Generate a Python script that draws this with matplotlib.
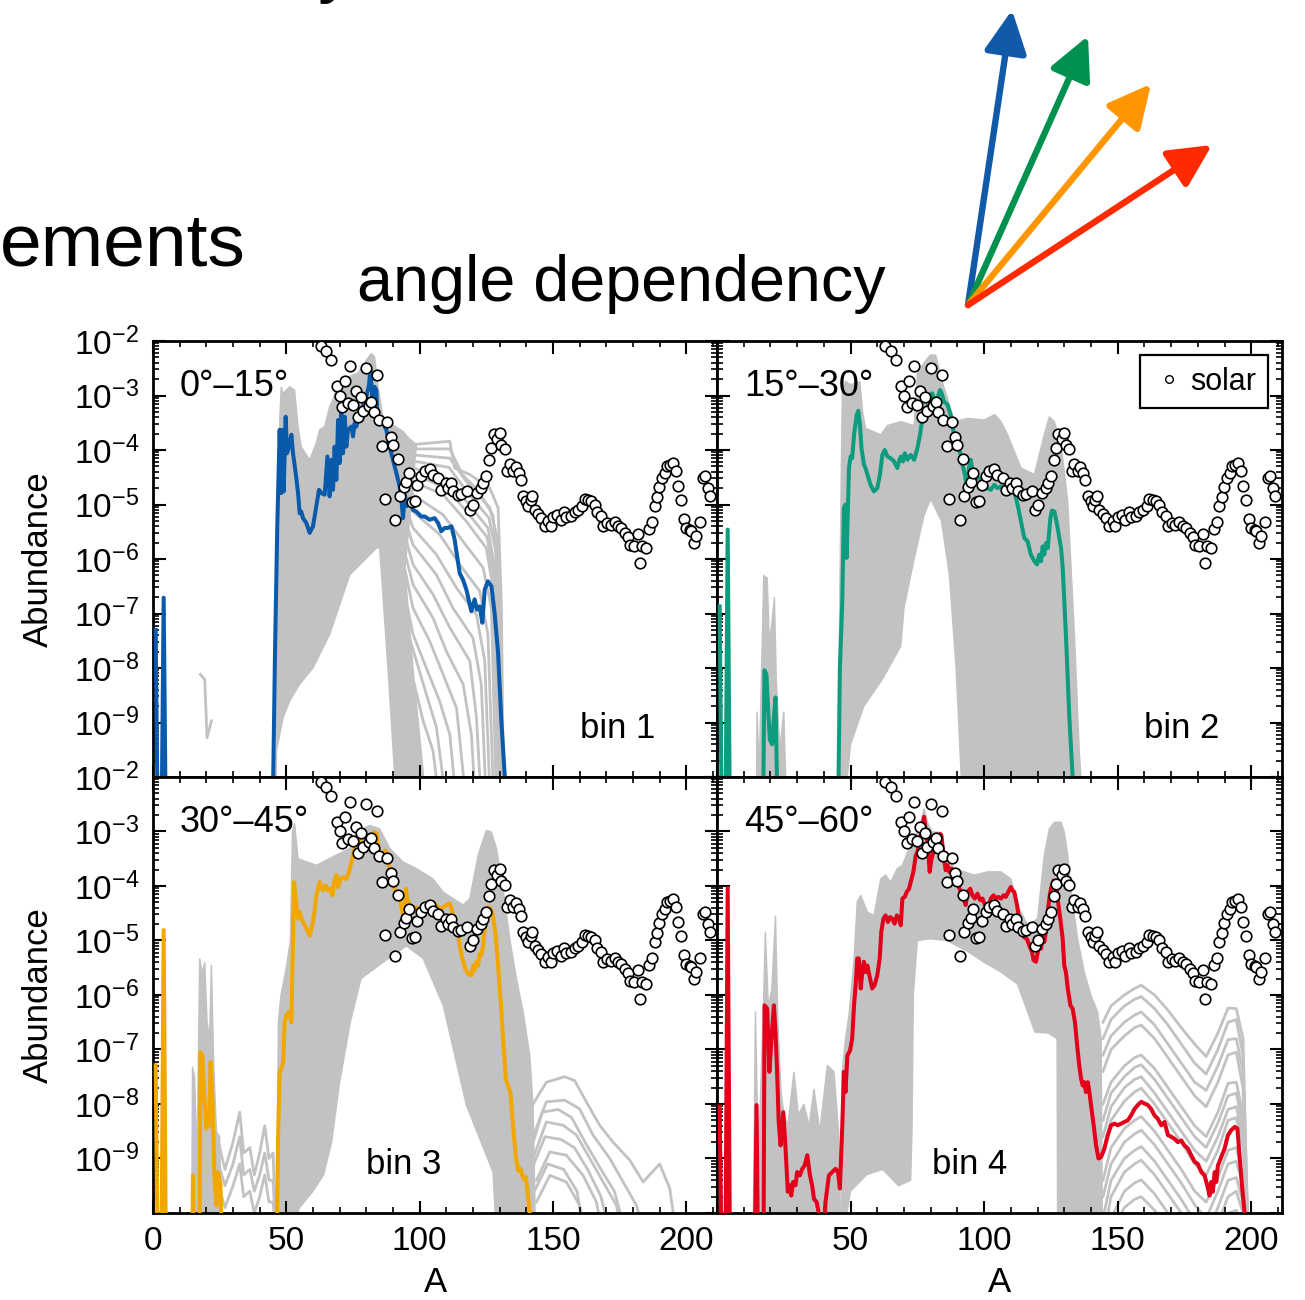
import numpy as np
import matplotlib
matplotlib.use("Agg")
import matplotlib.pyplot as plt
from matplotlib.ticker import MultipleLocator, LogLocator, NullFormatter
from matplotlib.lines import Line2D

plt.rcParams["font.family"] = ["Liberation Sans", "DejaVu Sans"]
plt.rcParams["mathtext.fontset"] = "custom"
plt.rcParams["mathtext.rm"] = "Liberation Sans"
plt.rcParams["mathtext.it"] = "Liberation Sans:italic"
plt.rcParams["mathtext.bf"] = "Liberation Sans:bold"

# ---------------------------------------------------------------- data
# all abundances are given as log10(Y)

# solar pattern (same in every panel)
SOLAR_A = [62.9, 65.0, 66.9, 69.0, 70.0, 71.0, 71.9, 73.1, 73.75, 75.0,
           76.0, 76.9, 77.9, 78.75, 80.0, 81.0, 81.9, 82.75, 84.1, 84.6,
           86.0, 86.9, 87.9, 89.1, 90.0, 90.9, 91.9, 92.5, 94.1, 95.0,
           96.0, 97.0, 98.1, 99.1, 100.6, 101.9, 103.75, 105.0, 106.9, 108.1,
           109.75, 110.6, 111.9, 112.5, 114.4, 115.6, 117.9, 119.0, 120.0, 121.5,
           123.1, 123.75, 125.0, 126.0, 126.9, 127.75, 129.0, 130.0, 130.6, 131.9,
           132.75, 133.75, 135.0, 136.0, 137.1, 137.9, 138.75, 140.0, 140.6, 141.6,
           142.25, 143.1, 144.4, 145.6, 146.9, 148.1, 149.1, 150.0, 151.5, 152.9,
           154.1, 155.0, 156.9, 158.1, 159.4, 161.0, 161.9, 163.1, 164.4, 165.6,
           166.5, 168.1, 168.75, 170.25, 171.6, 173.1, 174.4, 175.4, 176.9, 178.1,
           178.75, 180.25, 181.9, 182.5, 183.5, 185.0, 186.0, 187.1, 188.1, 189.0,
           189.75, 190.9, 192.1, 192.75, 193.75, 195.0, 196.0, 196.9, 198.1, 199.0,
           200.0, 201.25, 201.9, 202.75, 203.75, 205.0, 206.25, 207.1, 208.1, 209.0]
SOLAR_LOGY = [-2.10, -2.19, -2.35, -2.82, -3.00, -3.21, -2.74, -3.14, -2.45, -3.17,
              -2.92, -3.40, -3.03, -3.29, -2.50, -3.20, -3.12, -3.31, -2.63, -3.45,
              -3.92, -4.90, -3.48, -3.76, -3.90, -5.29, -4.16, -4.85, -4.67, -4.58,
              -4.42, -4.95, -4.93, -4.65, -4.48, -4.39, -4.34, -4.45, -4.52, -4.73,
              -4.61, -4.70, -4.61, -4.76, -4.82, -4.80, -4.76, -5.10, -5.00, -4.79,
              -4.70, -4.61, -4.47, -4.18, -3.97, -3.71, -3.79, -3.68, -3.90, -3.98,
              -4.39, -4.25, -4.39, -4.31, -4.42, -4.55, -4.85, -4.94, -5.02, -4.91,
              -4.84, -5.10, -5.17, -5.24, -5.40, -5.30, -5.40, -5.23, -5.19, -5.28,
              -5.13, -5.23, -5.22, -5.14, -5.10, -5.02, -4.90, -4.91, -4.94, -5.00,
              -5.14, -5.22, -5.40, -5.34, -5.37, -5.33, -5.40, -5.43, -5.52, -5.60,
              -5.74, -5.77, -5.55, -6.07, -5.77, -5.80, -5.45, -5.33, -5.03, -4.87,
              -4.67, -4.52, -4.42, -4.30, -4.27, -4.24, -4.39, -4.66, -4.91, -5.27,
              -5.43, -5.46, -5.49, -5.71, -5.57, -5.33, -4.52, -4.47, -4.70, -4.84]

# bin 1 (0-15 deg), blue run
BIN1_A = [1, 2, 3, 4, 5, 44.5, 45.75, 46.6, 47.5, 48.1,
          48.5, 49, 49.75, 50.25, 51, 51.9, 52.5, 53.5, 54.4, 55,
          55.6, 56.25, 57.5, 58.75, 60, 61.25, 62.25, 63.1, 64.4, 65.4,
          66.25, 66.9, 67.5, 68.1, 68.75, 69.4, 70, 70.6, 71.25, 71.9,
          72.5, 73.1, 74.4, 75, 75.6, 76.25, 76.9, 77.5, 78.75, 80,
          81, 81.5, 82.25, 83.1, 83.75, 84.1, 85, 86.25, 87.5, 88.75,
          90, 91.25, 92.5, 93.1, 93.75, 94.4, 95.25, 96.25, 97.5, 98.75,
          100.6, 101.9, 103.75, 105.6, 106.9, 108.1, 109.4, 110.6, 111.9, 113.1,
          115, 116.25, 117.5, 119.4, 120.6, 121.5, 122.5, 123.5, 124.4, 125.6,
          126.9, 128.1, 129.4, 130.6, 131.9, 132.5]
BIN1_LOGY = [-7.3, -12, -12, -6.71, -12, -12, -7.72, -5.40, -3.63, -4.79,
             -3.63, -4.76, -3.39, -4.06, -3.94, -3.72, -4.06, -4.42, -4.79, -5.16,
             -5.13, -5.25, -5.34, -5.52, -5.40, -5.03, -4.73, -4.79, -4.82, -4.12,
             -4.85, -4.18, -4.73, -3.94, -4.55, -3.45, -4.24, -3.26, -4.06, -3.39,
             -3.94, -3.63, -3.57, -3.75, -3.51, -3.57, -3.42, -3.45, -3.20, -3.02,
             -2.81, -2.53, -3.02, -2.84, -2.90, -3.32, -3.45, -3.51, -3.63, -3.94,
             -4.18, -4.42, -4.67, -4.88, -5.25, -4.82, -5.03, -4.91, -5.10, -5.13,
             -5.22, -5.22, -5.28, -5.25, -5.34, -5.49, -5.43, -5.43, -5.40, -5.64,
             -6.26, -6.38, -6.56, -6.96, -6.74, -6.93, -6.87, -7.17, -6.56, -6.41,
             -6.50, -6.99, -7.72, -8.94, -9.98, -11]
BIN1_BAND_A = [46.0, 46.9, 47.5, 48.1, 48.75, 51.25, 53.1, 54.4, 55.6, 58.75,
               61.25, 62.5, 64.4, 66.25, 67.5, 68.75, 71.25, 73.75, 76.9, 80.0,
               81.9, 83.1, 84.4, 86.3, 88.75, 91.25, 93.8, 96.25, 98.8, 94.5,
               97.5, 102.5, 91.3, 88.1, 85.0, 83.8, 73.8, 66.3, 60.0, 55.0,
               51.3, 48.8, 46.3, 46.2]
BIN1_BAND_LOGY = [-10.5, -5.28, -3.45, -2.84, -2.96, -2.84, -2.90, -3.57, -3.94, -4.18,
                  -3.87, -3.63, -3.57, -3.20, -3.08, -2.84, -2.71, -2.65, -2.59, -2.35,
                  -2.23, -2.29, -2.84, -3.42, -3.50, -3.58, -3.66, -3.80, -3.90, -6.2,
                  -8.0, -10.5, -10.5, -8.0, -5.8, -5.8, -6.29, -7.38, -8.0, -8.3,
                  -8.6, -8.91, -9.52, -10.5]
BIN1_FAN_A = [[93.5, 97.5, 111.3, 113.1, 118.8, 126.3, 129.4, 130.6, 131.5],
              [93.5, 97.5, 111.3, 116, 122, 127.5, 130.0, 131.2],
              [93.5, 97.5, 111.3, 117.5, 126.3, 128.8, 130.0, 131.0],
              [93.5, 97.5, 111.0, 117.5, 126.0, 128.5, 129.8, 130.6],
              [93.5, 97.5, 110.0, 117.5, 125.6, 128.1, 129.4, 130.3],
              [93.5, 97.5, 109.5, 117.5, 125.3, 127.8, 129.0, 129.9],
              [93.5, 97.5, 108.8, 117.5, 125.0, 127.5, 128.8, 129.5],
              [93.5, 97.5, 108.8, 116.3, 123.8, 126.9, 128.8],
              [93.5, 97.5, 107.5, 115.0, 122.5, 125.6, 127.8],
              [93.5, 97.5, 106.3, 113.8, 121.3, 124.4, 126.5],
              [93.5, 97.5, 106.3, 112.5, 120.0, 123.1, 125.0],
              [93.5, 97.5, 105.0, 111.3, 118.8, 121.3, 123.1],
              [94.0, 97.5, 105.0, 110.0, 116.3, 119.4, 121.0],
              [94.5, 97.5, 103.8, 108.8, 113.8, 117.5],
              [95.5, 97.5, 102.5, 107.5, 111.3, 113.8],
              [96.5, 102.5, 106.3, 110.0],
              [98.0, 101.3, 105.0, 107.5]]
BIN1_FAN_LOGY = [[-3.70, -3.90, -3.84, -4.33, -4.45, -4.70, -5.06, -6.77, -10.5],
                 [-3.78, -3.98, -3.98, -4.45, -4.75, -5.20, -6.50, -10.5],
                 [-3.85, -4.09, -4.15, -4.58, -5.06, -5.55, -7.38, -10.5],
                 [-3.92, -4.20, -4.32, -4.75, -5.25, -5.85, -7.60, -10.5],
                 [-4.00, -4.33, -4.52, -4.94, -5.43, -6.16, -8.00, -10.5],
                 [-4.10, -4.45, -4.68, -5.12, -5.60, -6.35, -8.30, -10.5],
                 [-4.20, -4.58, -4.82, -5.31, -5.80, -6.53, -8.61, -10.5],
                 [-4.40, -4.82, -5.19, -5.68, -6.16, -6.90, -10.5],
                 [-4.60, -5.13, -5.55, -6.10, -6.59, -7.38, -10.5],
                 [-4.85, -5.43, -5.92, -6.53, -7.02, -7.87, -10.5],
                 [-5.10, -5.74, -6.29, -6.90, -7.45, -8.30, -10.5],
                 [-5.40, -6.10, -6.65, -7.26, -7.87, -8.91, -10.5],
                 [-5.80, -6.47, -7.08, -7.69, -8.30, -9.22, -10.5],
                 [-6.20, -6.90, -7.51, -8.12, -8.73, -10.5],
                 [-6.90, -7.38, -8.00, -8.61, -9.22, -10.5],
                 [-7.50, -8.48, -9.09, -10.5],
                 [-8.30, -8.97, -9.52, -10.5]]
BIN1_FRAG_A = [17.76, 19.4, 20.26, 21.9]
BIN1_FRAG_LOGY = [-8.12, -8.21, -9.28, -8.97]

# bin 2 (15-30 deg), green run
BIN2_A = [1, 2, 3, 4, 5, 17.0, 17.76, 18.5, 19.1, 19.76,
          20.6, 21.3, 21.9, 22.5, 23, 45.0, 46, 46.9, 47.5, 48.1,
          48.5, 49, 49.4, 50, 50.6, 51.3, 52.3, 52.9, 53.5, 54.1,
          55, 55.6, 56.3, 57.5, 58.75, 60, 61, 61.9, 62.8, 63.8,
          65, 66.3, 67.5, 68.1, 68.8, 69.6, 70.3, 71.3, 72.5, 73.8,
          75, 76, 76.9, 77.5, 78.8, 79.8, 80.6, 81.5, 82.5, 83.5,
          84.1, 85, 86.3, 87.5, 88.5, 89.4, 90.4, 91.3, 91.9, 92.8,
          93.5, 94.3, 95, 95.6, 96.3, 96.9, 97.5, 98.8, 100, 101.3,
          102.5, 103.8, 105, 106.3, 107.5, 108.8, 110, 111.3, 112.5, 113.8,
          115, 116.3, 117.5, 118.8, 119.8, 120.6, 121.3, 121.9, 122.5, 123.1,
          123.8, 124.8, 125.4, 126.3, 127.3, 128.8, 129.4, 130.6, 131.9, 133.1,
          133.8]
BIN2_LOGY = [-6.87, -12, -12, -5.46, -12, -12, -8.04, -8.12, -8.73, -9.31,
             -9.40, -8.91, -8.54, -10.2, -12, -12, -8.0, -6.77, -5.06, -5.0,
             -5.98, -5.08, -4.33, -4.12, -4.15, -3.72, -3.36, -3.28, -3.54, -3.97,
             -4.27, -4.33, -4.45, -4.64, -4.76, -4.70, -4.45, -4.09, -4.0, -4.12,
             -4.15, -4.21, -4.33, -4.21, -4.12, -4.21, -4.06, -4.18, -4.09, -4.18,
             -3.97, -3.72, -3.42, -3.36, -3.20, -2.99, -2.96, -3.11, -3.05, -2.90,
             -2.96, -3.11, -3.17, -3.36, -3.66, -3.84, -3.97, -4.09, -4.27, -4.45,
             -4.70, -4.33, -4.18, -4.39, -4.45, -4.39, -4.52, -4.52, -4.64, -4.70,
             -4.73, -4.64, -4.70, -4.67, -4.73, -4.70, -4.70, -4.76, -5.0, -5.31,
             -5.61, -5.68, -5.92, -6.04, -6.10, -5.92, -6.04, -5.77, -5.92, -5.71,
             -5.80, -5.25, -5.11, -5.13, -5.37, -5.80, -6.16, -7.38, -8.91, -9.98,
             -11]
BIN2_BAND_A = [45.3, 46.0, 46.9, 48.1, 50.0, 53.5, 54.5, 55.6, 61.3, 63.8,
               68.8, 73.8, 75.0, 77.5, 79.8, 81.9, 84.0, 86.3, 88.8, 93.8,
               100.0, 104.0, 106.3, 108.8, 113.8, 118.8, 122.5, 124.4, 126.3, 128.8,
               131.3, 133.8, 135.6, 136.9, 91.9, 89.5, 87.0, 84.0, 80.0, 77.5,
               73.8, 70.0, 68.8, 62.0, 55.0, 50.0, 47.8]
BIN2_BAND_LOGY = [-10.5, -6.53, -2.93, -2.74, -2.80, -2.75, -3.30, -3.60, -3.72, -3.55,
                  -3.48, -3.55, -2.60, -2.40, -2.26, -2.26, -2.70, -3.05, -3.48, -3.42,
                  -3.45, -3.35, -3.48, -3.72, -4.33, -4.45, -3.72, -3.39, -3.48, -3.90,
                  -4.94, -7.38, -9.52, -10.5, -10.5, -8.0, -6.3, -5.3, -4.9, -5.2,
                  -6.0, -6.9, -7.6, -8.2, -8.7, -9.4, -10.5]
BIN2_LOW_A = [14.7, 15.0, 15.8, 17.5, 18.8, 19.6, 20.5, 21.5, 22.2, 23.5, 25.0, 26.0]
BIN2_LOW_LOGY = [-10.5, -8.8, -9.9, -6.3, -6.35, -7.5, -7.2, -6.7, -8.2, -9.5, -8.8, -10.5]

# bin 3 (30-45 deg), orange run
BIN3_A = [1, 2, 3, 4, 5, 14.5, 15, 15.5, 17.3, 17.8,
          18.5, 19.1, 20, 21, 21.6, 22.3, 23.1, 23.8, 24.4, 25.3,
          26, 46.0, 46.9, 47.5, 48.1, 48.8, 49.4, 50, 51, 51.9,
          52.5, 52.9, 53.5, 54.4, 55, 55.6, 56.3, 57.5, 58.8, 60,
          61.3, 62.5, 63.1, 63.8, 64.8, 65.6, 66.5, 67.3, 67.9, 68.8,
          69.4, 70.3, 71.3, 72.5, 73.5, 74.4, 75.3, 76.3, 77.1, 77.9,
          78.8, 79.4, 80.3, 81, 81.9, 82.5, 83.1, 83.8, 84.8, 85.6,
          86.5, 87.3, 88.1, 89, 90, 91, 91.9, 92.8, 93.8, 94.4,
          94.8, 95.3, 96.3, 97.5, 98.8, 100, 101.3, 102.5, 103.8, 105,
          106.3, 107.5, 108.8, 110, 111.3, 112.3, 113.1, 114, 115, 116,
          116.9, 118.1, 119.4, 120, 120.6, 121.3, 121.9, 122.5, 123.1, 123.8,
          124.8, 125.6, 126.5, 127.5, 128.5, 129.4, 130.3, 131.3, 132.3, 133.1,
          134, 135, 136, 136.9, 137.8, 138.8, 139.8, 140.6, 141.3, 142]
BIN3_LOGY = [-7.29, -12, -12, -4.81, -12, -12, -9.31, -12, -12, -7.05,
             -7.11, -7.78, -8.45, -8.39, -7.23, -7.96, -9.43, -9.86, -9.25, -9.49,
             -11, -12, -8.64, -7.41, -7.35, -7.23, -6.50, -6.37, -6.31, -6.50,
             -4.97, -3.93, -4.23, -4.60, -4.48, -4.60, -4.66, -4.78, -4.91, -4.66,
             -4.17, -3.93, -4.02, -4.08, -3.99, -4.08, -4.05, -4.17, -3.93, -3.80,
             -4.02, -3.87, -3.84, -3.87, -3.74, -3.56, -3.38, -3.22, -3.10, -3.19,
             -3.41, -3.25, -3.10, -3.13, -3.22, -3.07, -3.01, -3.04, -3.38, -3.44,
             -3.38, -3.35, -3.56, -3.74, -3.93, -4.11, -4.20, -4.29, -4.54, -4.42,
             -4.05, -4.23, -4.35, -4.42, -4.39, -4.48, -4.48, -4.39, -4.39, -4.42,
             -4.35, -4.42, -4.39, -4.35, -4.32, -4.48, -4.66, -4.78, -5.09, -5.33,
             -5.49, -5.61, -5.64, -5.46, -5.55, -5.39, -5.46, -5.24, -5.27, -5.09,
             -4.60, -4.39, -4.40, -4.54, -4.91, -5.46, -6.07, -6.80, -7.54, -7.66,
             -7.78, -8.39, -8.94, -9.22, -9.19, -9.37, -9.34, -9.68, -10.0, -11]
BIN3_BAND_A = [46.3, 47.0, 48.0, 50.0, 51.5, 52.3, 53.1, 54.0, 54.4, 61.3,
               66.0, 73.8, 76.3, 81.3, 85.0, 88.8, 93.8, 98.8, 105.0, 108.8,
               112.5, 116.3, 118.8, 121.9, 125.0, 126.9, 128.8, 131.3, 133.8, 136.3,
               138.8, 141.3, 142.5, 143.5, 128.8, 127.5, 117.5, 108.8, 101.3, 95.0,
               86.3, 78.0, 74.0, 70.0, 67.0, 64.0, 60.0, 55.0, 50.0]
BIN3_BAND_LOGY = [-10.5, -6.5, -6.0, -5.5, -5.0, -3.0, -2.85, -3.3, -3.50, -3.62,
                  -3.5, -3.31, -3.0, -2.89, -2.95, -3.31, -3.56, -3.68, -3.87, -4.11,
                  -4.23, -4.35, -4.23, -3.44, -2.98, -3.01, -3.31, -4.05, -4.97, -5.70,
                  -6.31, -7.11, -8.0, -10.5, -10.5, -9.25, -8.02, -6.19, -5.33, -5.1,
                  -5.4, -5.7, -6.5, -7.6, -8.7, -9.3, -9.6, -9.9, -10.5]
BIN3_LOW_A = [14.5, 14.8, 15.6, 16.5, 17.5, 18.5, 19.4, 20.3, 21.2, 21.9, 22.8, 23.8, 25.0, 25.8]
BIN3_LOW_LOGY = [-10.5, -7.32, -7.5, -9.0, -5.33, -5.6, -5.4, -6.5, -6.8, -5.45, -7.3, -8.5, -8.6, -10.5]
BIN3_TAIL_A = [24, 27, 30, 32.5, 34, 36.3, 38, 40, 41.9, 43.5, 45, 46.3]
BIN3_TAIL_LOGY = [[-8.6, -9.2, -8.7, -8.15, -8.9, -8.8, -9.3, -8.9, -8.4, -9.0, -8.9, -10.5],
                  [-9.0, -9.5, -9.1, -8.6, -9.3, -9.2, -9.6, -9.3, -8.9, -9.4, -9.4, -10.5],
                  [-9.4, -9.9, -9.5, -9.1, -9.7, -9.6, -10.0, -9.7, -9.3, -9.8, -9.8, -10.5]]
BIN3_HUMP_A = [[141.3, 147.5, 154.4, 158.1, 162.5, 167.5, 172.5, 178.8, 183.8, 190, 193.8, 196.5],
               [142.5, 147.5, 154.4, 160, 165, 171.3, 176.3, 181.3, 185],
               [141.3, 146, 152, 157, 162, 168, 173, 178],
               [142.5, 147.5, 153.8, 158.8, 163.8, 168.8, 173.8, 176],
               [142, 147, 153, 158, 163, 168, 172],
               [143.8, 148.8, 155, 161.3, 166.3, 169],
               [143, 148, 154, 159, 162],
               [143.8, 148.8, 155, 160, 163]]
BIN3_HUMP_LOGY = [[-8.1, -7.60, -7.50, -7.57, -7.96, -8.39, -8.70, -9.03, -9.43, -9.10, -9.55, -10.5],
                  [-8.6, -7.96, -7.93, -8.09, -8.57, -9.00, -9.43, -9.86, -10.5],
                  [-8.9, -8.15, -8.1, -8.25, -8.7, -9.2, -9.6, -10.5],
                  [-9.0, -8.33, -8.39, -8.57, -9.00, -9.43, -9.86, -10.5],
                  [-9.2, -8.6, -8.65, -8.8, -9.2, -9.7, -10.5],
                  [-9.4, -8.88, -8.94, -9.31, -9.80, -10.5],
                  [-9.6, -9.1, -9.2, -9.6, -10.5],
                  [-9.8, -9.31, -9.43, -9.86, -10.5]]

# bin 4 (45-60 deg), red run
BIN4_A = [1, 2, 3, 4, 5, 13.8, 14.8, 15.6, 17.3, 17.8,
          18.8, 19.6, 20.4, 21.3, 21.9, 22.5, 23.1, 23.8, 24.8, 25.6,
          26.5, 27.3, 27.8, 28.5, 29.4, 30, 31, 31.9, 32.8, 33.8,
          34.8, 35.6, 36.3, 37.3, 38.1, 38.8, 40.0, 40.6, 41.9, 43.1,
          44.4, 45.3, 46, 46.9, 47.5, 48.1, 48.8, 49.8, 50.6, 51.3,
          51.9, 52.5, 53.1, 53.8, 54.4, 55, 55.6, 56.3, 57.3, 58.1,
          59, 60, 60.9, 61.5, 62.3, 63.1, 64, 64.8, 65.6, 66.5,
          67.3, 68.1, 68.8, 69.4, 70.3, 71, 71.9, 72.5, 73.5, 74.4,
          75, 75.6, 76.3, 76.9, 77.5, 78.1, 78.8, 79.6, 80.3, 81,
          81.9, 82.8, 83.5, 84, 84.8, 85.6, 86.3, 86.9, 87.8, 88.5,
          89.4, 90.3, 91.3, 92.3, 93.1, 93.8, 94.8, 95.6, 96.5, 97.5,
          98.5, 99.4, 100.3, 101, 101.9, 102.5, 103.5, 104.4, 105.3, 106.3,
          107.3, 108.1, 109, 110, 110.6, 111.3, 112.3, 113.1, 114, 115,
          116, 116.9, 117.9, 118.5, 119.4, 120, 120.6, 121.3, 121.9, 122.5,
          123.1, 123.8, 124.4, 125, 126, 126.9, 127.5, 128.5, 129.4, 130,
          130.6, 131.3, 132.3, 133.1, 134, 134.8, 135.6, 136.3, 136.9, 137.5,
          138.1, 138.8, 139.4, 140, 141, 141.9, 142.8, 143.8, 145, 146.3,
          147.5, 148.8, 150, 151.3, 152.5, 153.8, 155, 156.3, 157.5, 158.8,
          160, 161.3, 162.5, 163.8, 165, 166.3, 167.5, 168.8, 170, 171.3,
          172.5, 173.8, 175, 176.3, 177.5, 178.8, 180, 181.3, 182.5, 183.5,
          184.4, 185, 185.6, 186.3, 186.9, 187.5, 188.1, 189, 190, 190.6,
          191.3, 192.5, 193.8, 194.8, 195.6, 196.5, 197.5, 198.1]
BIN4_LOGY = [-8.05, -12, -12, -4.04, -12, -12, -8.02, -12, -12, -6.19,
             -6.25, -7.41, -6.80, -6.19, -6.68, -7.41, -8.33, -8.76, -8.15, -8.76,
             -9.61, -9.49, -9.68, -9.43, -9.49, -9.25, -9.31, -9.19, -9.13, -8.94,
             -9.31, -9.49, -9.74, -9.80, -10.0, -10.5, -10.5, -9.80, -9.31, -9.25,
             -9.19, -9.25, -9.55, -8.39, -7.41, -7.78, -7.11, -7.02, -6.80, -6.19,
             -5.82, -5.33, -5.33, -5.88, -5.58, -5.39, -5.58, -5.46, -5.70, -5.88,
             -5.82, -5.64, -5.33, -4.84, -4.60, -4.54, -4.66, -4.57, -4.60, -4.69,
             -4.54, -4.60, -4.72, -4.23, -4.20, -4.11, -4.05, -3.93, -3.74, -3.44,
             -3.38, -3.25, -3.07, -2.89, -2.73, -2.95, -3.19, -3.74, -3.50, -3.38,
             -3.25, -3.13, -3.04, -3.07, -3.44, -3.71, -3.62, -3.74, -3.68, -3.80,
             -3.87, -3.99, -4.11, -4.23, -4.35, -4.11, -4.05, -4.17, -4.23, -4.14,
             -4.26, -4.23, -4.35, -4.48, -4.35, -4.23, -4.17, -4.23, -4.20, -4.23,
             -4.17, -4.20, -4.11, -4.02, -4.08, -4.11, -4.35, -4.60, -4.84, -4.94,
             -4.97, -5.09, -5.21, -5.36, -5.39, -5.24, -4.97, -5.15, -4.91, -5.03,
             -4.84, -4.48, -4.23, -4.05, -3.90, -3.96, -4.23, -4.60, -4.97, -5.46,
             -5.58, -5.88, -6.19, -6.25, -6.50, -6.92, -7.29, -7.54, -7.66, -7.60,
             -7.78, -7.60, -7.78, -8.02, -8.39, -8.76, -9.00, -8.97, -8.82, -8.57,
             -8.39, -8.36, -8.39, -8.36, -8.33, -8.30, -8.21, -8.09, -8.02, -7.96,
             -7.99, -8.02, -8.09, -8.21, -8.27, -8.39, -8.33, -8.57, -8.60, -8.64,
             -8.70, -8.67, -8.76, -8.82, -8.94, -9.06, -9.10, -9.25, -9.31, -9.49,
             -9.68, -9.43, -9.61, -9.25, -9.43, -9.13, -9.06, -8.94, -8.82, -8.70,
             -8.57, -8.48, -8.42, -8.45, -8.94, -9.49, -10.0, -10.5]
BIN4_BAND_A = [46.3, 46.9, 48.1, 49.4, 51.3, 52.5, 53.8, 56.3, 58.8, 61.3,
               63.1, 65.0, 67.5, 69.4, 71.3, 73.8, 76.3, 77.5, 78.8, 80.6,
               82.5, 85.0, 88.8, 92.5, 96.3, 101.3, 106.3, 110.0, 112.5, 116.3,
               120.0, 122.5, 124.4, 126.3, 128.8, 130.0, 131.3, 132.5, 135.0, 137.5,
               140.0, 142.5, 143.8, 144.3, 127.5, 127.3, 124.0, 119.0, 112.5, 106.3,
               100.0, 93.8, 86.0, 80.0, 75.0, 73.5, 73.0, 72.5, 68.0, 62.0,
               56.0, 50.0, 47.0]
BIN4_BAND_LOGY = [-10.5, -7.41, -6.80, -6.37, -5.33, -4.29, -4.17, -4.48, -4.54, -3.87,
                  -3.80, -3.93, -3.68, -3.62, -3.38, -3.13, -2.83, -2.58, -2.83, -3.01,
                  -3.01, -3.38, -3.68, -3.74, -3.80, -3.74, -3.74, -3.87, -4.35, -4.72,
                  -4.60, -3.44, -2.95, -2.83, -2.83, -3.01, -3.44, -4.05, -4.97, -5.58,
                  -6.01, -6.31, -6.8, -10.5, -10.5, -6.8, -6.7, -6.68, -5.8, -5.58,
                  -5.4, -5.2, -5.0, -4.97, -5.0, -6.0, -8.5, -9.4, -9.5, -9.2,
                  -9.3, -9.6, -10.5]
BIN4_LOW_A = [13.5, 14.4, 15.5, 17.2, 18.1, 19.2, 20.5, 21.9, 22.8, 24.0,
              25.0, 26.5, 28.8, 30.5, 32.5, 34.5, 36.3, 38.5, 41.3, 43.8,
              45.5, 46.3]
BIN4_LOW_LOGY = [-10.5, -6.3, -9.0, -6.5, -4.84, -6.2, -5.9, -4.54, -6.5, -7.8,
                 -8.15, -8.4, -7.41, -8.2, -8.0, -8.4, -7.72, -8.5, -7.29, -7.41,
                 -8.5, -10.5]
BIN4_HUMP_A = [144.5, 147.5, 152.5, 156.3, 158.8, 163.8, 168.8, 173.8, 178.8, 183.1,
               187.5, 191.3, 194.4, 196.9, 198.8]
BIN4_HUMP_LOGY = [
    [-6.5, -6.2, -6.0, -5.88, -5.82, -6.0, -6.28, -6.6, -6.9, -7.13, -6.7, -6.24, -6.25, -6.8, -10.5],
    [-6.8, -6.45, -6.2, -6.08, -6.03, -6.25, -6.55, -6.9, -7.25, -7.45, -7.0, -6.5, -6.45, -7.1, -10.5],
    [-7.1, -6.75, -6.5, -6.37, -6.31, -6.55, -6.9, -7.25, -7.6, -7.75, -7.3, -6.82, -6.8, -7.4, -10.5],
    [-7.4, -7.0, -6.75, -6.6, -6.55, -6.8, -7.15, -7.5, -7.85, -8.05, -7.6, -7.1, -7.05, -7.7, -10.5],
    [-8.0, -7.6, -7.3, -7.15, -7.10, -7.35, -7.7, -8.05, -8.4, -8.6, -8.15, -7.62, -7.6, -8.2, -10.5],
    [-8.3, -7.8, -7.5, -7.33, -7.28, -7.55, -7.9, -8.25, -8.6, -8.8, -8.35, -7.85, -7.8, -8.4, -10.5],
    [-8.6, -8.05, -7.7, -7.55, -7.50, -7.8, -8.15, -8.5, -8.85, -9.05, -8.6, -8.1, -8.05, -8.6, -10.5],
    [-8.9, -8.3, -7.95, -7.78, -7.71, -8.0, -8.35, -8.7, -9.1, -9.3, -8.85, -8.3, -8.25, -8.8, -10.5],
    [-9.4, -8.8, -8.45, -8.3, -8.23, -8.5, -8.85, -9.2, -9.6, -9.8, -9.35, -8.85, -8.8, -9.3, -10.5],
    [-9.7, -9.1, -8.7, -8.55, -8.48, -8.75, -9.1, -9.45, -9.85, -10.1, -9.6, -9.1, -9.05, -9.5, -10.5],
    [-10.1, -9.4, -9.0, -8.85, -8.78, -9.05, -9.4, -9.75, -10.15, -10.4, -9.9, -9.4, -9.35, -9.8, -10.5],
    [-10.5, -9.7, -9.25, -9.1, -9.03, -9.3, -9.65, -10.0, -10.4, -10.6, -10.2, -9.7, -9.6, -10.0, -10.5],
    [-10.8, -10.1, -9.6, -9.45, -9.39, -9.65, -10.0, -10.35, -10.7, -10.9, -10.5, -10.0, -9.95, -10.3, -10.6],
    [-11.0, -10.4, -9.9, -9.75, -9.70, -9.95, -10.3, -10.6, -11.0, -11.0, -10.8, -10.3, -10.2, -10.5, -10.7],
]

ANGLE_LABELS = ["0°–15°", "15°–30°", "30°–45°", "45°–60°"]
BIN_LABELS = ["bin 1", "bin 2", "bin 3", "bin 4"]
X_TICKS = [0, 50, 100, 150, 200]
Y_EXPONENTS = list(range(-10, -1))

# ---------------------------------------------------------------- style
W, H = 1305, 1300
GRAY = "#c2c2c2"
BLUE = "#0a5aac"
GREEN = "#0e9c7e"
ORANGE = "#f2a600"
RED = "#e3001b"
ARROW_COLORS = ["#1159a9", "#00914f", "#ff9600", "#ff2a00"]


def _check(name, a, b):
    if len(a) != len(b):
        raise ValueError(f"{name}: {len(a)} x values but {len(b)} y values")


def _ylog(vals):
    return 10.0 ** np.asarray(vals, dtype=float)


def draw_panel(ax, polys, gray_lines, run_a, run_logy, color, angle_text,
               bin_text, bin_right, left, bottom):
    for i, (pa, py) in enumerate(polys):
        _check(f"poly{i}", pa, py)
        ax.fill(pa, _ylog(py), facecolor=GRAY, edgecolor=GRAY, lw=1.0, zorder=1)
    for i, (la, ly) in enumerate(gray_lines):
        _check(f"gray{i}", la, ly)
        ax.plot(la, _ylog(ly), color=GRAY, lw=2.0, zorder=1.5,
                solid_joinstyle="round")
    _check("run", run_a, run_logy)
    ax.plot(run_a, _ylog(run_logy), color=color, lw=2.9, zorder=3,
            solid_joinstyle="round")
    ax.plot(SOLAR_A, _ylog(SOLAR_LOGY), ls="none", marker="o", ms=7.6,
            mfc="white", mec="black", mew=1.2, zorder=4)

    ax.set_yscale("log")
    ax.set_xlim(0, 211.5)
    ax.set_ylim(1e-10, 1e-2)

    ax.set_xticks(X_TICKS)
    ax.xaxis.set_minor_locator(MultipleLocator(10))
    ax.set_yticks([10.0 ** k for k in Y_EXPONENTS])
    ax.yaxis.set_minor_locator(LogLocator(base=10, subs=np.arange(2, 10), numticks=20))
    ax.yaxis.set_minor_formatter(NullFormatter())

    if left:
        ax.set_yticklabels([""] + [r"$\mathregular{10^{%d}}$" % k for k in Y_EXPONENTS[1:]])
    else:
        ax.set_yticklabels([])
    if bottom:
        labels = [str(t) for t in X_TICKS]
        if not left:
            labels[0] = ""
        ax.set_xticklabels(labels)
    else:
        ax.set_xticklabels([])

    ax.tick_params(which="both", direction="in", top=True, right=True,
                   labelsize=24)
    ax.tick_params(which="major", length=9, width=1.5)
    ax.tick_params(which="minor", length=4.5, width=1.2)
    ax.tick_params(axis="y", pad=10)
    ax.tick_params(axis="x", pad=9)
    for sp in ax.spines.values():
        sp.set_linewidth(2.0)

    ax.text(0.048, 0.874, angle_text, transform=ax.transAxes, fontsize=26,
            ha="left", va="baseline", zorder=6)
    ax.text(bin_right, 0.089, bin_text, transform=ax.transAxes, fontsize=25,
            ha="right", va="baseline", zorder=6)


fig = plt.figure(figsize=(W / 100, H / 100), dpi=100)

boxes = {
    "tl": [153 / W, 1 - 777 / H, 564 / W, 436 / H],
    "tr": [717 / W, 1 - 777 / H, 565 / W, 436 / H],
    "bl": [153 / W, 1 - 1213 / H, 564 / W, 436 / H],
    "br": [717 / W, 1 - 1213 / H, 565 / W, 436 / H],
}
ax1 = fig.add_axes(boxes["tl"])
ax2 = fig.add_axes(boxes["tr"])
ax3 = fig.add_axes(boxes["bl"])
ax4 = fig.add_axes(boxes["br"])

draw_panel(ax1, [(BIN1_BAND_A, BIN1_BAND_LOGY)],
           list(zip(BIN1_FAN_A, BIN1_FAN_LOGY)) + [(BIN1_FRAG_A, BIN1_FRAG_LOGY)],
           BIN1_A, BIN1_LOGY, BLUE, ANGLE_LABELS[0], BIN_LABELS[0], 0.89,
           left=True, bottom=False)
draw_panel(ax2, [(BIN2_BAND_A, BIN2_BAND_LOGY), (BIN2_LOW_A, BIN2_LOW_LOGY)], [],
           BIN2_A, BIN2_LOGY, GREEN, ANGLE_LABELS[1], BIN_LABELS[1], 0.89,
           left=False, bottom=False)
draw_panel(ax3, [(BIN3_BAND_A, BIN3_BAND_LOGY), (BIN3_LOW_A, BIN3_LOW_LOGY)],
           [(BIN3_TAIL_A, ly) for ly in BIN3_TAIL_LOGY]
           + list(zip(BIN3_HUMP_A, BIN3_HUMP_LOGY)),
           BIN3_A, BIN3_LOGY, ORANGE, ANGLE_LABELS[2], BIN_LABELS[2], 0.512,
           left=True, bottom=True)
draw_panel(ax4, [(BIN4_BAND_A, BIN4_BAND_LOGY), (BIN4_LOW_A, BIN4_LOW_LOGY)],
           [(BIN4_HUMP_A, ly) for ly in BIN4_HUMP_LOGY],
           BIN4_A, BIN4_LOGY, RED, ANGLE_LABELS[3], BIN_LABELS[3], 0.513,
           left=False, bottom=True)

solar_handle = Line2D([], [], ls="none", marker="o", ms=5.5, mfc="white",
                      mec="black", mew=1.0)
leg = ax2.legend([solar_handle], ["solar"], loc="upper right",
                 bbox_to_anchor=(0.975, 0.968), borderaxespad=0, fontsize=22,
                 frameon=True, fancybox=False, framealpha=1, edgecolor="black",
                 handlelength=1.1, handletextpad=0.15, borderpad=0.38)
leg.get_frame().set_linewidth(1.6)
leg.set_zorder(7)

# axis titles
for yc in (559, 995):
    fig.text(38 / W, 1 - yc / H, "Abundance", rotation=90, ha="center",
             va="center", fontsize=25)
for xc in (435, 1000):
    fig.text(xc / W, 1 - 1283 / H, "A", ha="center", va="center", fontsize=25)

# slide text around the chart (partly cut off by the slide edge)
fig.text(0.0, 1 - 265 / H, "ements", fontsize=54, ha="left", va="baseline")
fig.text(318 / W, 1 + 11 / H, "y", fontsize=54, ha="left", va="baseline")
fig.text(357 / W, 1 - 301 / H, "angle dependency", fontsize=46.5, ha="left",
         va="baseline")

# direction arrows (figure pixel coordinates)
origin = (968, H - 305)
tips = [(1012, H - 10), (1088, H - 36), (1151, H - 84), (1212, H - 145)]
for tip, col in zip(tips, ARROW_COLORS):
    fig.add_artist(plt.Annotation(
        "", xy=tip, xytext=origin, xycoords="figure pixels",
        textcoords="figure pixels",
        arrowprops=dict(arrowstyle="-|>,head_length=1.3,head_width=0.65",
                        mutation_scale=20, lw=4.6, color=col,
                        shrinkA=0, shrinkB=0)))

fig.savefig("out.png", dpi=100)
